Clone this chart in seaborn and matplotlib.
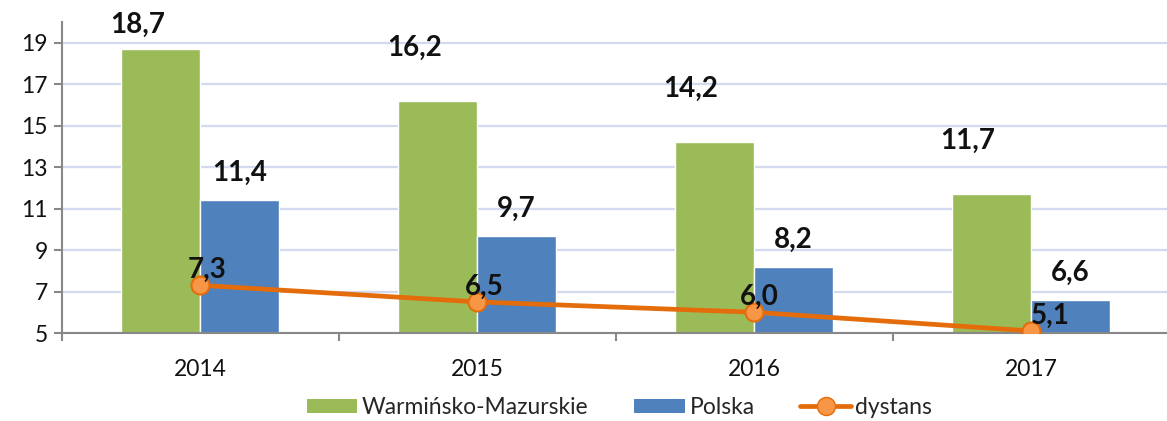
import numpy as np
import pandas as pd
import seaborn as sns
import matplotlib
matplotlib.use("Agg")
import matplotlib.pyplot as plt
from matplotlib.lines import Line2D
from matplotlib.patches import Patch

years = ["2014", "2015", "2016", "2017"]
warminsko = [18.7, 16.2, 14.2, 11.7]
polska = [11.4, 9.7, 8.2, 6.6]
dystans = [7.3, 6.5, 6.0, 5.1]
series_names = ["Warmińsko-Mazurskie", "Polska", "dystans"]
yticks = [5, 7, 9, 11, 13, 15, 17, 19]

GREEN = "#9BBB59"
BLUE = "#4F81BD"
ORANGE = "#E46C0A"
ORANGE_FILL = "#F79646"

sns.set_theme(style="white")
plt.rcParams["font.family"] = ["Lato", "DejaVu Sans"]

df = pd.DataFrame({
    "rok": years * 2,
    "wartosc": warminsko + polska,
    "seria": [series_names[0]] * 4 + [series_names[1]] * 4,
})
dfl = pd.DataFrame({"rok": years, "wartosc": dystans})

fig = plt.figure(figsize=(11.67, 4.21), dpi=100)
ax = fig.add_axes([0.0531, 0.209, 0.949, 0.739])

sns.barplot(data=df, x="rok", y="wartosc", hue="seria", palette=[GREEN, BLUE],
            width=0.57, ax=ax, legend=False, saturation=1, zorder=2)
sns.pointplot(data=dfl, x="rok", y="wartosc", color=ORANGE, markers="o",
              markersize=13, markerfacecolor=ORANGE_FILL, markeredgecolor=ORANGE,
              markeredgewidth=1.5, linewidth=3.4, ax=ax, zorder=4)

ax.set_xlim(-0.5, 3.5)
ax.set_ylim(5, 20)
ax.set_yticks(yticks)
ax.set_yticklabels([str(t) for t in yticks])
ax.yaxis.grid(True, color="#D3D9EE", linewidth=1.6, zorder=0)
ax.set_axisbelow(True)
ax.set_xlabel("")
ax.set_ylabel("")

for s in ["top", "right"]:
    ax.spines[s].set_visible(False)
for s in ["left", "bottom"]:
    ax.spines[s].set_color("#888888")
    ax.spines[s].set_linewidth(1.5)

ax.tick_params(axis="y", which="major", left=True, length=6, width=1.5,
               color="#888888", labelsize=16.5, pad=4, labelcolor="#111111")
ax.tick_params(axis="x", which="major", bottom=False, labelsize=16.5, pad=13,
               labelcolor="#111111")
ax.set_xticks([-0.5, 0.5, 1.5, 2.5, 3.5], minor=True)
ax.tick_params(axis="x", which="minor", bottom=True, length=6, width=1.5,
               color="#888888")

bw = 0.285
line_label_dx = [5, 5, 4, 14]
for i in range(len(years)):
    xg = i - bw / 2
    xb = i + bw / 2
    yg = min(warminsko[i] + 2.55, 19.85)
    ax.annotate(f"{warminsko[i]:.1f}".replace(".", ","), (xg, yg),
                xytext=(-17, 0), textcoords="offset points",
                ha="center", va="center", fontsize=20, fontweight="bold",
                color="#111111", zorder=6, annotation_clip=False)
    ax.annotate(f"{polska[i]:.1f}".replace(".", ","), (xb, polska[i] + 1.3),
                ha="center", va="center", fontsize=20, fontweight="bold",
                color="#111111", zorder=6)
    ax.annotate(f"{dystans[i]:.1f}".replace(".", ","), (i, dystans[i]),
                xytext=(line_label_dx[i], 11), textcoords="offset points",
                ha="center", va="center", fontsize=20, fontweight="bold",
                color="#111111", zorder=6)

handles = [
    Patch(facecolor=GREEN, edgecolor="none"),
    Patch(facecolor=BLUE, edgecolor="none"),
    Line2D([0], [0], color=ORANGE, linewidth=3.4, marker="o", markersize=13,
           markerfacecolor=ORANGE_FILL, markeredgecolor=ORANGE),
]
fig.legend(handles, series_names, loc="center", bbox_to_anchor=(0.531, 0.032),
           ncol=3, frameon=False, fontsize=16.5, handlelength=2.2,
           handleheight=0.6, columnspacing=2.0, handletextpad=0.2)

fig.savefig("out.png", dpi=100)
